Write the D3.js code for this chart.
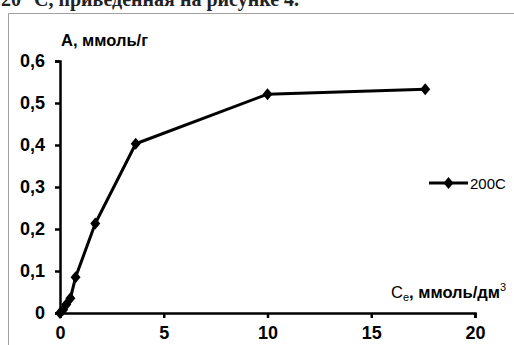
<!DOCTYPE html>
<html>
<head>
<meta charset="utf-8">
<script src="https://cdn.jsdelivr.net/npm/d3@7"></script>
<style>
  body { margin: 0; background: #fff; }
  svg { display: block; }
</style>
</head>
<body>
<div id="chart"></div>
<script>
// data
let ce = [0, 0.15, 0.3, 0.5, 0.75, 1.7, 3.65, 10, 17.6];
let adsorption = [0, 0.008, 0.02, 0.035, 0.085, 0.213, 0.403, 0.521, 0.533];
let xTicks = [0, 5, 10, 15, 20];
let yTicks = [0, 0.1, 0.2, 0.3, 0.4, 0.5, 0.6];
let seriesName = "200C";

let svgWidth = 514;
let svgHeight = 345;

let margin = { top: 61, left: 60, right: 39, bottom: 32 };
let width = svgWidth - margin.left - margin.right;
let height = svgHeight - margin.top - margin.bottom;

let svg = d3.select("#chart")
  .append("svg")
  .attr("width", svgWidth)
  .attr("height", svgHeight);

// cut-off line of text from the page above the figure
svg.append("text")
  .attr("x", 1)
  .attr("y", 6)
  .attr("font-family", "Liberation Serif, Times New Roman, serif")
  .attr("font-size", 20)
  .attr("font-weight", "bold")
  .attr("fill", "#222")
  .text("20 °С, приведенная на рисунке 4.");

// frame of the chart area
svg.append("path")
  .attr("d", `M8.5,${svgHeight}V13.5H${svgWidth}`)
  .attr("fill", "none")
  .attr("stroke", "#a0a0a0")
  .attr("stroke-width", 1);

let chartGroup = svg.append("g")
  .attr("transform", `translate(${margin.left}, ${margin.top})`);

let xScale = d3.scaleLinear().domain([0, 20]).range([0, width]);
let yScale = d3.scaleLinear().domain([0, 0.6]).range([height, 0]);

let fmt = d => d3.format("")(d).replace(".", ",");

let xAxis = chartGroup.append("g")
  .attr("transform", `translate(0, ${height})`)
  .call(d3.axisBottom(xScale).tickValues(xTicks).tickFormat(fmt).tickSize(5).tickSizeOuter(5));

let yAxis = chartGroup.append("g")
  .call(d3.axisLeft(yScale).tickValues(yTicks).tickFormat(fmt).tickSize(5).tickSizeOuter(5));

[xAxis, yAxis].forEach(ax => {
  ax.selectAll("path, line").attr("stroke", "#000").attr("stroke-width", 2.5);
  ax.selectAll("text")
    .attr("font-family", "Liberation Sans, Arial, sans-serif")
    .attr("font-size", 18)
    .attr("font-weight", "bold")
    .attr("fill", "#000");
});
xAxis.selectAll("text").attr("dy", "1.0em");
yAxis.selectAll("text").attr("x", -15);

// axis titles
svg.append("text")
  .attr("x", 61)
  .attr("y", 46)
  .attr("font-family", "Liberation Sans, Arial, sans-serif")
  .attr("font-size", 16.5)
  .attr("font-weight", "bold")
  .text("А, ммоль/г");

let xTitle = svg.append("text")
  .attr("x", 391)
  .attr("y", 298)
  .attr("font-family", "Liberation Sans, Arial, sans-serif")
  .attr("font-size", 16.5)
  .attr("font-weight", "bold");
xTitle.append("tspan").attr("font-weight", "normal").text("C");
xTitle.append("tspan").attr("font-weight", "normal").attr("font-size", 11).attr("dy", 3).text("e");
xTitle.append("tspan").attr("dy", -3).text(", ммоль/дм");
xTitle.append("tspan").attr("font-weight", "normal").attr("font-size", 11).attr("dy", -7).text("3");

// series line and markers
let points = ce.map((c, i) => ({ x: c, y: adsorption[i] }));
let diamond = "M0,-6L5,0L0,6L-5,0Z";

chartGroup.append("path")
  .datum(points)
  .attr("fill", "none")
  .attr("stroke", "#000")
  .attr("stroke-width", 3)
  .attr("stroke-linejoin", "round")
  .attr("d", d3.line().x(d => xScale(d.x)).y(d => yScale(d.y)));

chartGroup.selectAll(".marker")
  .data(points)
  .enter()
  .append("path")
  .attr("class", "marker")
  .attr("transform", d => `translate(${xScale(d.x)}, ${yScale(d.y)})`)
  .attr("d", diamond)
  .attr("fill", "#000");

// legend
let legend = svg.append("g").attr("transform", "translate(429, 183)");
legend.append("line")
  .attr("x1", 0).attr("x2", 39)
  .attr("stroke", "#000").attr("stroke-width", 3);
legend.append("path")
  .attr("transform", "translate(19.5, 0)")
  .attr("d", diamond)
  .attr("fill", "#000");
legend.append("text")
  .attr("x", 41)
  .attr("y", 5.5)
  .attr("font-family", "Liberation Sans Narrow, Liberation Sans, Arial, sans-serif")
  .attr("font-size", 15)
  .text(seriesName);
</script>
</body>
</html>
